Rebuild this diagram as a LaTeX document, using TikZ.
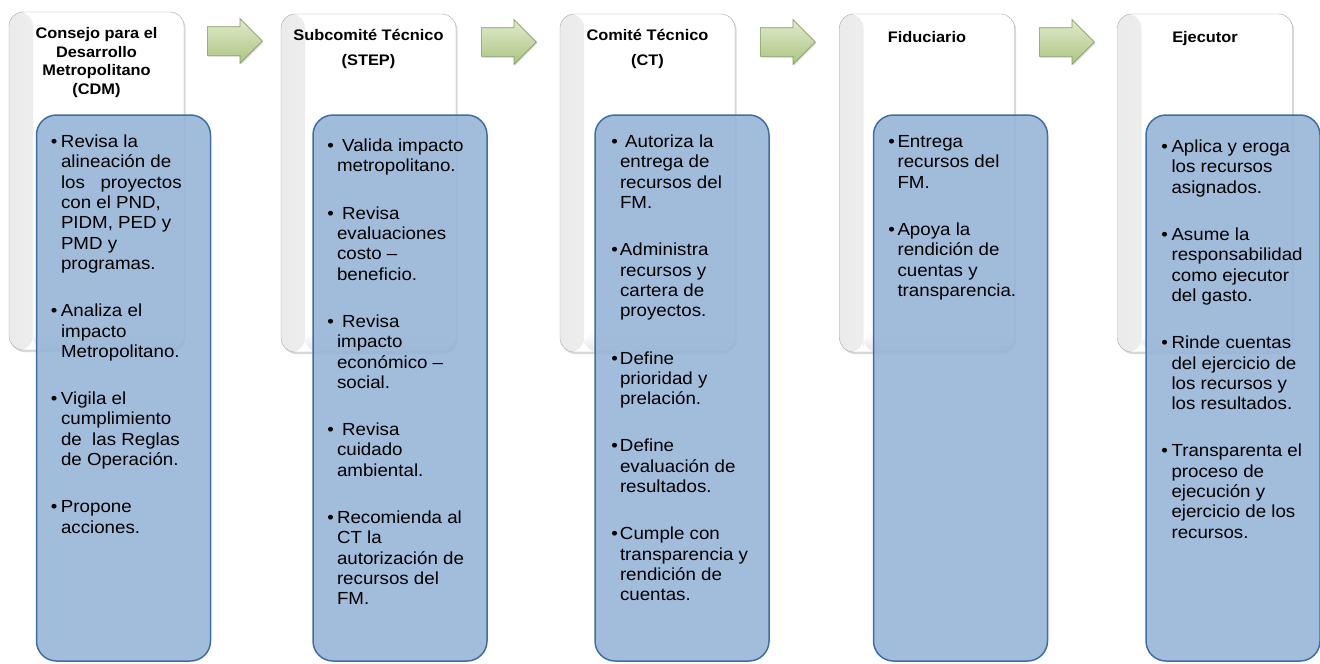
\documentclass[tikz,border=0pt]{standalone}
\usepackage{fontspec}
\setmainfont[FakeStretch=1.07]{Liberation Sans}
\usetikzlibrary{shapes.arrows,shadows}

\definecolor{boxblue}{RGB}{149,179,215}
\definecolor{boxline}{RGB}{62,110,166}
\definecolor{arrowtop}{RGB}{224,235,204}
\definecolor{arrowbot}{RGB}{172,196,130}
\definecolor{arrowline}{RGB}{132,156,96}

\begin{document}
\begin{tikzpicture}[
    x=1pt, y=-1pt,
    stage/.style={
      rectangle,
      draw=black!35,
      fill=white,
      rounded corners=14pt,
      inner sep=0pt,
      minimum width=175pt,
      minimum height=338pt,
      drop shadow={shadow xshift=1.5pt, shadow yshift=-2pt, opacity=0.3},
      path picture={
        \shade[left color=black!8, right color=white]
          (path picture bounding box.south west) rectangle ([xshift=24pt]path picture bounding box.north west);
        \shade[top color=white, bottom color=black!10]
          ([xshift=24pt,yshift=20pt]path picture bounding box.south west) rectangle (path picture bounding box.south east);
      }
    },
    tasks/.style={
      rectangle,
      draw=boxline,
      line width=1.5pt,
      fill=boxblue,
      fill opacity=0.88,
      draw opacity=1,
      rounded corners=20pt,
      inner sep=0pt,
      minimum width=174pt,
      minimum height=546pt
    },
    flow/.style={
      single arrow,
      single arrow head extend=8pt,
      single arrow head indent=0pt,
      inner xsep=0pt,
      inner ysep=14pt,
      minimum height=55pt,
      anchor=tail,
      top color=arrowtop,
      bottom color=arrowbot,
      draw=arrowline,
      line width=0.7pt,
      drop shadow={shadow xshift=1pt, shadow yshift=-1.5pt, opacity=0.25}
    },
    title/.style={font=\bfseries\fontsize{15.3}{18.5}\selectfont, align=center, inner sep=0pt},
    items/.style={font=\fontsize{17.5}{20.3}\selectfont, anchor=north west, inner sep=0pt},
]
\useasboundingbox (0,0) rectangle (1320,664);

% etapas
\node[stage] (W1) at (96.5,181) {};
\node[stage] (W2) at (368.5,183) {};
\node[stage] (W3) at (647.5,183) {};
\node[stage] (W4) at (927,183) {};
\node[stage] (W5) at (1205,183) {};

% flechas
\node[flow] (F1) at (207,41) {};
\node[flow] (F2) at (481,42) {};
\node[flow] (F3) at (760,42) {};
\node[flow] (F4) at (1039,42) {};

\node[title, below=15.5pt] at (W1.north) {Consejo para el\\Desarrollo\\Metropolitano\\(CDM)};
\node[title, below=15pt] at (W2.north) {Subcomité Técnico\\[7pt](STEP)};
\node[title, below=15pt] at (W3.north) {Comité Técnico\\[7pt](CT)};
\node[title, below=17pt] at (W4.north) {Fiduciario};
\node[title, below=17pt] at (W5.north) {Ejecutor};

% funciones
\node[tasks] (B1) at (123.5,388) {};
\node[tasks] (B2) at (400,388) {};
\node[tasks] (B3) at (682,388) {};
\node[tasks] (B4) at (960.5,388) {};
\node[tasks] (B5) at (1233,388) {};

\node[items] at ([xshift=15pt,yshift=-19pt]B1.north west) {\begin{tabular}{@{}l@{\hspace{3.5pt}}l@{}}
• & Revisa la\\ & alineación de\\ & los \ \ proyectos\\ & con el PND,\\ & PIDM, PED y\\ & PMD y\\ & programas.\\[27pt]
• & Analiza el\\ & impacto\\ & Metropolitano.\\[27pt]
• & Vigila el\\ & cumplimiento\\ & de \ las Reglas\\ & de Operación.\\[27pt]
• & Propone\\ & acciones.
\end{tabular}};

\node[items] at ([xshift=15pt,yshift=-23pt]B2.north west) {\begin{tabular}{@{}l@{\hspace{3pt}}l@{}}
• & \ Valida impacto\\ & metropolitano.\\[27pt]
• & \ Revisa\\ & evaluaciones\\ & costo –\\ & beneficio.\\[27pt]
• & \ Revisa\\ & impacto\\ & económico –\\ & social.\\[27pt]
• & \ Revisa\\ & cuidado\\ & ambiental.\\[27pt]
• & Recomienda al\\ & CT la\\ & autorización de\\ & recursos del\\ & FM.
\end{tabular}};

\node[items] at ([xshift=17pt,yshift=-19pt]B3.north west) {\begin{tabular}{@{}l@{\hspace{2pt}}l@{}}
• & \ Autoriza la\\ & entrega de\\ & recursos del\\ & FM.\\[27pt]
• & Administra\\ & recursos y\\ & cartera de\\ & proyectos.\\[27pt]
• & Define\\ & prioridad y\\ & prelación.\\[27pt]
• & Define\\ & evaluación de\\ & resultados.\\[27pt]
• & Cumple con\\ & transparencia y\\ & rendición de\\ & cuentas.
\end{tabular}};

\node[items] at ([xshift=15.5pt,yshift=-19pt]B4.north west) {\begin{tabular}{@{}l@{\hspace{2.5pt}}l@{}}
• & Entrega\\ & recursos del\\ & FM.\\[27pt]
• & Apoya la\\ & rendición de\\ & cuentas y\\ & transparencia.
\end{tabular}};

\node[items] at ([xshift=16pt,yshift=-24pt]B5.north west) {\begin{tabular}{@{}l@{\hspace{3.5pt}}l@{}}
• & Aplica y eroga\\ & los recursos\\ & asignados.\\[27pt]
• & Asume la\\ & responsabilidad\\ & como ejecutor\\ & del gasto.\\[27pt]
• & Rinde cuentas\\ & del ejercicio de\\ & los recursos y\\ & los resultados.\\[27pt]
• & Transparenta el\\ & proceso de\\ & ejecución y\\ & ejercicio de los\\ & recursos.
\end{tabular}};

\end{tikzpicture}
\end{document}
